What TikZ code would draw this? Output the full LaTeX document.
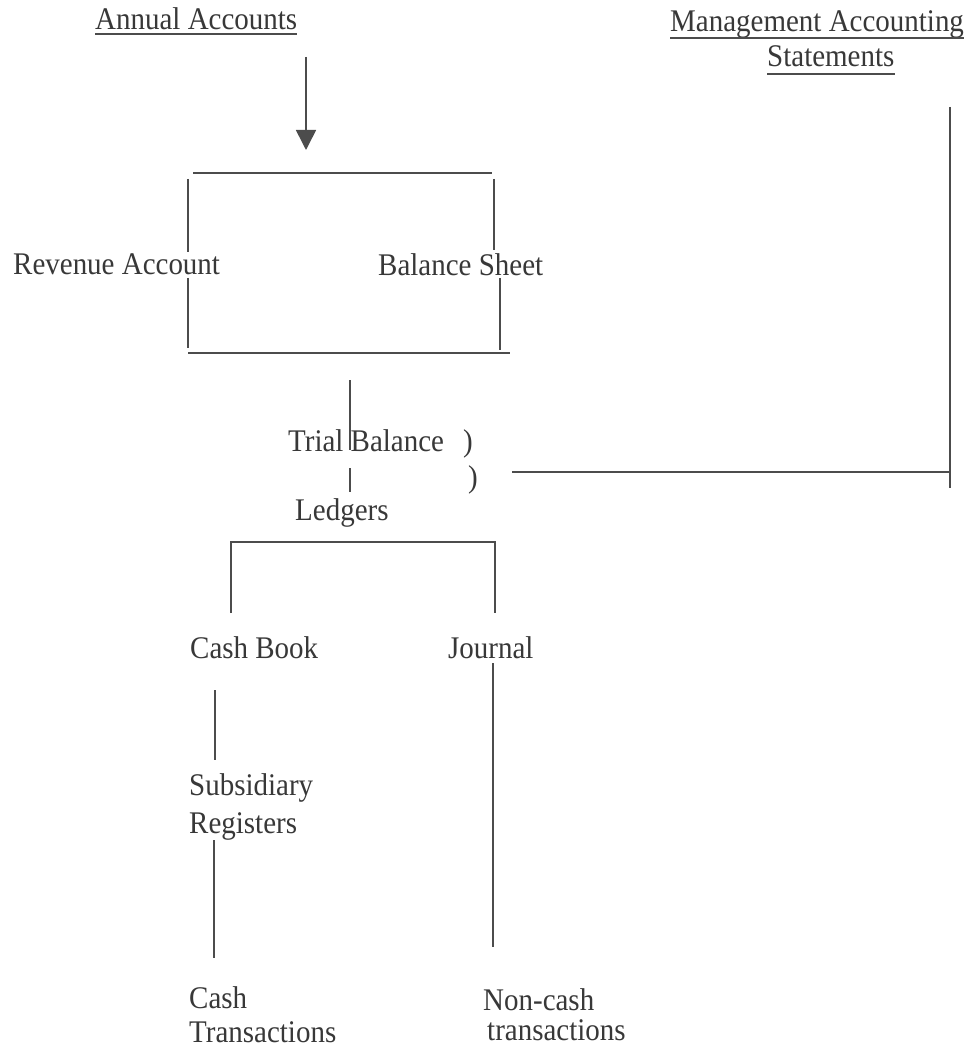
\documentclass[tikz,border=0pt]{standalone}
\usepackage{fontspec}
\setmainfont{Liberation Serif}[FakeStretch=0.92]
\usetikzlibrary{arrows.meta}
\definecolor{ink}{gray}{0.22}
\definecolor{lineink}{gray}{0.3}
\begin{document}
\begin{tikzpicture}[x=1pt,y=-1pt,
  lbl/.style={anchor=base west,inner sep=0pt,text=ink,font=\fontsize{31.5}{36}\selectfont},
  ln/.style={draw=lineink,line width=1.6pt},
  ul/.style={draw=lineink,line width=1.2pt},
  arr/.style={ln,-{Triangle[width=20pt,length=20pt]}}]
\useasboundingbox[fill=white] (0,0) rectangle (974,1048);

% texts
\node[lbl] (aa) at (95,30) {Annual Accounts};
\node[lbl] (ma) at (670,32) {Management Accounting};
\node[lbl] (st) at (767,67) {Statements};
\node[lbl] (ra) at (13,275) {Revenue Account};
\node[lbl] (bs) at (378,276) {Balance Sheet};
\node[lbl] (tb) at (288,451) {Trial Balance};
\node[lbl] (p1) at (463,451) {)};
\node[lbl] (p2) at (468,487) {)};
\node[lbl] (lg) at (295,520) {Ledgers};
\node[lbl] (cb) at (190,658) {Cash Book};
\node[lbl] (jn) at (448,658) {Journal};
\node[lbl] (sub) at (189,795) {Subsidiary};
\node[lbl] (reg) at (189,833) {Registers};
\node[lbl] (ct1) at (189,1008) {Cash};
\node[lbl] (ct2) at (189,1042) {Transactions};
\node[lbl] (nc1) at (483,1010) {Non-cash};
\node[lbl] (nc2) at (487,1040) {transactions};

% underlines
\draw[ul] ([yshift=-4pt]aa.base west) -- ([yshift=-4pt]aa.base east);
\draw[ul] ([yshift=-6pt]ma.base west) -- ([yshift=-6pt]ma.base east);
\draw[ul] ([yshift=-7pt]st.base west) -- ([yshift=-7pt]st.base east);

% coordinates
\coordinate (arT) at (306,57);
\coordinate (arB) at (306,150);
\coordinate (bxTL) at (193,173);
\coordinate (bxTR) at (492,173);
\coordinate (bxL1a) at (188,179);
\coordinate (bxL1b) at (188,252);
\coordinate (bxL2a) at (188,278);
\coordinate (bxL2b) at (188,348);
\coordinate (bxR1a) at (494,179);
\coordinate (bxR1b) at (494,250);
\coordinate (bxR2a) at (500,278);
\coordinate (bxR2b) at (500,350);
\coordinate (bxBL) at (188,353);
\coordinate (bxBR) at (510,353);
\coordinate (tbA) at (350,380);
\coordinate (tbB) at (350,450);
\coordinate (lgA) at (350,468);
\coordinate (lgB) at (350,492);
\coordinate (maH1) at (512,472);
\coordinate (maH2) at (950,472);
\coordinate (maV1) at (950,107);
\coordinate (maV2) at (950,488);
\coordinate (lbL) at (231,613);
\coordinate (lbTL) at (231,542);
\coordinate (lbTR) at (495,542);
\coordinate (lbR) at (495,613);
\coordinate (cbA) at (215,690);
\coordinate (cbB) at (215,760);
\coordinate (jnA) at (493,663);
\coordinate (jnB) at (493,947);
\coordinate (sbA) at (214,840);
\coordinate (sbB) at (214,958);

% connectors
\draw[arr] (arT) -- (arB);
\draw[ln] (bxTL) -- (bxTR);
\draw[ln] (bxL1a) -- (bxL1b);
\draw[ln] (bxL2a) -- (bxL2b);
\draw[ln] (bxR1a) -- (bxR1b);
\draw[ln] (bxR2a) -- (bxR2b);
\draw[ln] (bxBL) -- (bxBR);
\draw[ln] (tbA) -- (tbB);
\draw[ln] (lgA) -- (lgB);
\draw[ln] (maH1) -- (maH2);
\draw[ln] (maV1) -- (maV2);
\draw[ln] (lbL) -- (lbTL) -- (lbTR) -- (lbR);
\draw[ln] (cbA) -- (cbB);
\draw[ln] (jnA) -- (jnB);
\draw[ln] (sbA) -- (sbB);
\end{tikzpicture}
\end{document}
